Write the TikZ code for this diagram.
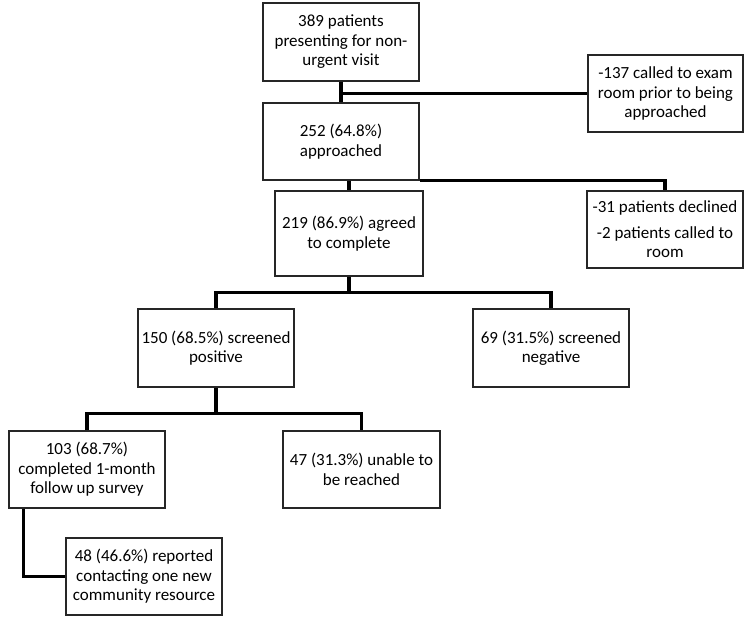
\documentclass[tikz,border=0pt]{standalone}
\usepackage{fontspec}
\setmainfont{Carlito}
\usetikzlibrary{positioning,calc}

\begin{document}
\begin{tikzpicture}[x=1pt, y=-1pt,
    box/.style={draw=black!85, line width=1.2pt, fill=white, align=center, inner sep=2pt, font=\fontsize{17}{19.5}\selectfont},
    link/.style={line width=3.5pt, black}]
\useasboundingbox (0,0) rectangle (750,624);
% Components
\node[box, minimum width=156, minimum height=78] (all) at (341,42) {389 patients\\presenting for non-\\urgent visit};
\node[box, minimum width=156, minimum height=77] (appr) at (341,141.5) {252 (64.8\%)\\approached};
\node[box, minimum width=155, minimum height=77] (excl1) at (665.5,93.5) {-137 called to exam\\room prior to being\\approached};
\node[box, minimum width=148, minimum height=85] (agree) at (349,233.5) {219 (86.9\%) agreed\\to complete};
\node[box, minimum width=156, minimum height=77] (excl2) at (665,229.5) {-31 patients declined\\[6pt]-2 patients called to\\room};
\node[box, minimum width=156, minimum height=78] (pos) at (216,348) {150 (68.5\%) screened\\positive};
\node[box, minimum width=156, minimum height=78] (neg) at (551,348) {69 (31.5\%) screened\\negative};
\node[box, minimum width=156, minimum height=77] (fu) at (87,469.5) {103 (68.7\%)\\completed 1-month\\follow up survey};
\node[box, minimum width=157, minimum height=77] (lost) at (361.5,469.5) {47 (31.3\%) unable to\\be reached};
\node[box, minimum width=156, minimum height=77] (res) at (144,576.5) {48 (46.6\%) reported\\contacting one new\\community resource};
% Connections
\coordinate (split1) at ($(agree.south)!0.5!(agree.south |- pos.north)$);
\coordinate (split2) at ($(pos.south)!0.6!(pos.south |- fu.north)$);
\draw[link] (all.south) -- (appr.north);
\draw[link] (excl1.west) -- (excl1.west -| all.south);
\draw[link] (agree.north |- appr.south) -- (agree.north);
\draw[link] (appr.south east) -| (excl2.north);
\draw[link] (agree.south) -- (split1);
\draw[link] (pos.north) |- (split1) -| (neg.north);
\draw[link] (pos.south) -- (split2);
\draw[link] (fu.north) |- (split2) -| (lost.north);
\draw[link] ([xshift=15pt]fu.south west) |- (res.west);
\end{tikzpicture}
\end{document}
